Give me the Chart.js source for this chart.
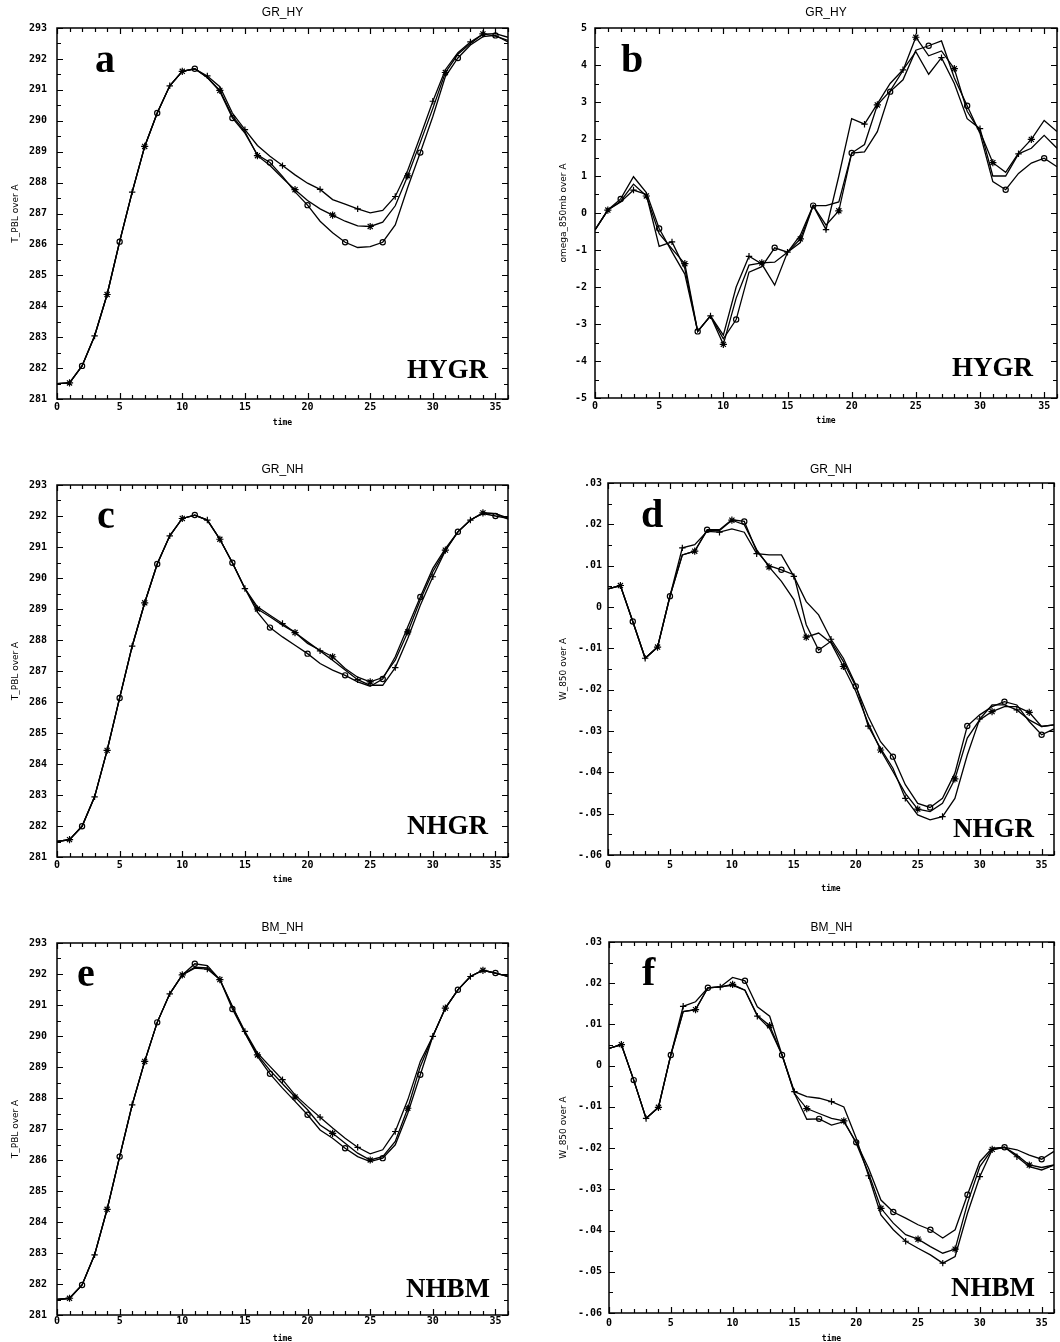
<!DOCTYPE html>
<html><head><meta charset="utf-8">
<script src="https://cdn.jsdelivr.net/npm/chart.js@4.4.1/dist/chart.umd.min.js"></script>
<style>
html,body{margin:0;padding:0;background:#fff;width:1060px;height:1342px;overflow:hidden;position:relative}
canvas{position:absolute}
</style></head><body>
<canvas id="pa" width="530" height="435" style="left:0;top:0"></canvas>
<canvas id="pb" width="530" height="434" style="left:530px;top:0"></canvas>
<canvas id="pc" width="530" height="453" style="left:0;top:440px"></canvas>
<canvas id="pd" width="530" height="457" style="left:530px;top:440px"></canvas>
<canvas id="pe" width="530" height="451" style="left:0;top:900px"></canvas>
<canvas id="pf" width="530" height="450" style="left:530px;top:900px"></canvas>
<script>
// ---------------- data ----------------
const time = [0,1,2,3,4,5,6,7,8,9,10,11,12,13,14,15,16,17,18,19,20,21,22,23,24,25,26,27,28,29,30,31,32,33,34,35,36];
const xTicks = [0,5,10,15,20,25,30,35];
const tTicks = [281,282,283,284,285,286,287,288,289,290,291,292,293];
const omegaTicks = [-5,-4,-3,-2,-1,0,1,2,3,4,5];
const wTicks = [-0.06,-0.05,-0.04,-0.03,-0.02,-0.01,0,0.01,0.02,0.03];

// panel a: T_PBL, GR_HY
const a_plus = [281.5,281.52,282.07,283.04,284.38,286.09,287.69,289.17,290.25,291.13,291.6,291.68,291.45,291.1,290.25,289.71,289.2,288.85,288.55,288.25,287.98,287.78,287.45,287.3,287.15,287.02,287.1,287.55,288.4,289.5,290.63,291.65,292.2,292.55,292.8,292.82,292.7];
const a_star = [281.5,281.52,282.07,283.04,284.38,286.09,287.69,289.17,290.25,291.13,291.6,291.68,291.4,290.98,290.15,289.65,288.87,288.55,288.15,287.77,287.42,287.15,286.95,286.75,286.6,286.58,286.72,287.25,288.22,289.3,290.4,291.56,292.15,292.5,292.81,292.74,292.6];
const a_circ = [281.5,281.52,282.07,283.04,284.38,286.09,287.69,289.17,290.25,291.13,291.6,291.68,291.4,290.95,290.09,289.6,288.9,288.65,288.2,287.7,287.27,286.75,286.38,286.07,285.9,285.93,286.07,286.63,287.85,288.97,290.14,291.43,292.03,292.45,292.72,292.76,292.55];

// panel b: omega_850mb, GR_HY
const b_plus = [-0.46,0.08,0.3,0.62,0.5,-0.9,-0.78,-1.5,-3.2,-2.78,-3.3,-2.0,-1.17,-1.38,-1.95,-1.06,-0.6,0.2,-0.45,1.0,2.55,2.4,2.95,3.5,3.87,4.36,3.75,4.2,3.5,2.55,2.28,1.0,1.0,1.6,1.75,2.1,1.75];
const b_star = [-0.46,0.08,0.32,0.78,0.46,-0.56,-0.97,-1.37,-3.2,-2.78,-3.55,-2.3,-1.41,-1.35,-1.33,-1.06,-0.7,0.2,-0.33,0.06,1.62,1.85,2.92,3.3,3.85,4.75,4.25,4.38,3.9,2.75,2.2,1.36,1.1,1.62,1.99,2.5,2.2];
const b_circ = [-0.46,0.08,0.38,0.98,0.55,-0.42,-1.05,-1.65,-3.2,-2.78,-3.4,-2.88,-1.6,-1.45,-0.94,-1.06,-0.8,0.2,0.2,0.3,1.62,1.65,2.2,3.28,3.6,4.4,4.52,4.65,3.65,2.9,2.15,0.85,0.63,1.07,1.35,1.48,1.25];

// panel c: T_PBL, GR_NH
const c_plus = [281.5,281.56,281.99,282.94,284.44,286.13,287.8,289.2,290.45,291.36,291.92,292.03,291.87,291.25,290.49,289.66,289.07,288.8,288.53,288.24,287.94,287.65,287.35,287.03,286.72,286.54,286.54,287.11,288.05,289.12,290.04,290.88,291.49,291.87,292.1,292.08,291.9];
const c_star = [281.5,281.56,281.99,282.94,284.44,286.13,287.8,289.2,290.45,291.36,291.92,292.03,291.87,291.25,290.49,289.66,289.0,288.75,288.48,288.24,287.89,287.67,287.46,287.08,286.8,286.65,286.79,287.35,288.26,289.29,290.2,290.9,291.49,291.87,292.1,292.08,291.94];
const c_circ = [281.5,281.56,281.99,282.94,284.44,286.13,287.8,289.2,290.45,291.36,291.92,292.03,291.87,291.25,290.49,289.66,288.9,288.4,288.1,287.83,287.56,287.24,287.03,286.86,286.65,286.51,286.74,287.46,288.43,289.39,290.31,290.95,291.49,291.87,292.08,292.0,291.92];

// panel d: W_850, GR_NH
const d_plus = [0.0044,0.0052,-0.0035,-0.0124,-0.0097,0.0026,0.0143,0.0151,0.0183,0.0181,0.0189,0.0181,0.0129,0.0126,0.0126,0.0074,0.0013,-0.0019,-0.0078,-0.0124,-0.0188,-0.0288,-0.0342,-0.039,-0.0463,-0.0503,-0.0515,-0.0507,-0.0463,-0.0358,-0.0271,-0.0237,-0.0237,-0.0249,-0.0273,-0.0289,-0.0285];
const d_star = [0.0044,0.0052,-0.0035,-0.0124,-0.0097,0.0026,0.0126,0.0135,0.0185,0.0185,0.021,0.0199,0.0139,0.0097,0.0062,0.0018,-0.0073,-0.0063,-0.0087,-0.0144,-0.0204,-0.0281,-0.0346,-0.0398,-0.0451,-0.0489,-0.0495,-0.0475,-0.0416,-0.0317,-0.0273,-0.0253,-0.0241,-0.0241,-0.0255,-0.0289,-0.0285];
const d_circ = [0.0044,0.0052,-0.0035,-0.0124,-0.0097,0.0026,0.0126,0.0135,0.0187,0.0187,0.0211,0.0207,0.0135,0.01,0.009,0.0078,-0.0043,-0.0104,-0.0083,-0.0132,-0.0192,-0.0265,-0.0326,-0.0362,-0.043,-0.0475,-0.0485,-0.0463,-0.0402,-0.0288,-0.0261,-0.0241,-0.0229,-0.0237,-0.0277,-0.0309,-0.0295];

// panel e: T_PBL, BM_NH
const e_plus = [281.5,281.54,281.97,282.94,284.41,286.11,287.78,289.18,290.44,291.36,291.97,292.19,292.16,291.82,290.95,290.15,289.45,289.02,288.59,288.1,287.73,287.38,287.03,286.7,286.41,286.2,286.33,286.92,287.94,289.18,289.99,290.9,291.49,291.92,292.12,292.03,291.92];
const e_star = [281.5,281.54,281.97,282.94,284.41,286.11,287.78,289.18,290.44,291.36,291.97,292.22,292.2,291.82,290.95,290.1,289.39,288.89,288.46,288.03,287.62,287.13,286.86,286.54,286.22,286.0,286.11,286.6,287.67,289.02,289.99,290.9,291.49,291.92,292.12,292.03,291.92];
const e_circ = [281.5,281.54,281.97,282.94,284.41,286.11,287.78,289.18,290.44,291.36,291.97,292.33,292.27,291.82,290.87,290.1,289.34,288.78,288.32,287.89,287.46,286.97,286.7,286.38,286.11,285.95,286.06,286.49,287.51,288.75,289.99,290.9,291.49,291.92,292.12,292.03,291.92];

// panel f: W_850, BM_NH
const f_plus = [0.0042,0.0051,-0.0035,-0.0128,-0.0101,0.0026,0.0144,0.0155,0.0189,0.0191,0.0195,0.0183,0.012,0.009,0.0026,-0.0063,-0.0075,-0.0079,-0.0087,-0.01,-0.0176,-0.0267,-0.0362,-0.0398,-0.0426,-0.0443,-0.0459,-0.0479,-0.0463,-0.0358,-0.0269,-0.0204,-0.0198,-0.0221,-0.0245,-0.0253,-0.0241];
const f_star = [0.0042,0.0051,-0.0035,-0.0128,-0.0101,0.0026,0.0131,0.0136,0.0189,0.0191,0.0197,0.0183,0.0122,0.0097,0.0026,-0.0067,-0.0104,-0.0116,-0.0128,-0.0134,-0.0188,-0.0261,-0.0346,-0.0382,-0.041,-0.0421,-0.0439,-0.0455,-0.0445,-0.0334,-0.0245,-0.0203,-0.0198,-0.0217,-0.0241,-0.0247,-0.0241];
const f_circ = [0.0042,0.0051,-0.0035,-0.0128,-0.0101,0.0026,0.0131,0.0136,0.0189,0.0191,0.0214,0.0206,0.0143,0.012,0.0026,-0.0067,-0.013,-0.0129,-0.0144,-0.0136,-0.0186,-0.0249,-0.0326,-0.0355,-0.037,-0.0386,-0.0398,-0.0418,-0.0398,-0.0313,-0.0233,-0.02,-0.0198,-0.0204,-0.0217,-0.0227,-0.0208];

// ---------------- helpers ----------------
const fmtInt = v => String(Math.round(v));
const fmtW = v => { const r = Math.round(v * 100) / 100; if (r === 0) return '0'; return r.toFixed(2).replace('0.', '.'); };

const frameTicks = {
  id: 'frameTicks',
  afterDraw(chart, args, o) {
    const {ctx, chartArea: ca, scales: {x, y}} = chart;
    ctx.save();
    ctx.strokeStyle = '#000';
    ctx.lineWidth = 1.5;
    ctx.strokeRect(ca.left, ca.top, ca.right - ca.left, ca.bottom - ca.top);
    ctx.lineWidth = 1.2;
    ctx.beginPath();
    const nx = Math.round((x.max - x.min) / o.xMinor);
    for (let i = 0; i <= nx; i++) {
      const v = x.min + i * o.xMinor;
      const px = Math.round(x.getPixelForValue(v)) + 0.5;
      const major = Math.abs(v / o.xMajor - Math.round(v / o.xMajor)) < 1e-6;
      const L = major ? 6 : 4;
      ctx.moveTo(px, ca.bottom); ctx.lineTo(px, ca.bottom - L);
      ctx.moveTo(px, ca.top); ctx.lineTo(px, ca.top + L);
    }
    const ny = Math.round((y.max - y.min) / o.yMinor);
    for (let i = 0; i <= ny; i++) {
      const v = y.min + i * o.yMinor;
      const py = Math.round(y.getPixelForValue(v)) + 0.5;
      const major = i % 2 === 0;
      const L = major ? 6 : 4;
      ctx.moveTo(ca.left, py); ctx.lineTo(ca.left + L, py);
      ctx.moveTo(ca.right, py); ctx.lineTo(ca.right - L, py);
    }
    ctx.stroke();
    ctx.fillStyle = '#000';
    ctx.textBaseline = 'alphabetic';
    ctx.textAlign = 'left';
    ctx.font = 'bold 40px "Liberation Serif"';
    ctx.fillText(o.letter, ca.left + o.letterPos[0], ca.top + o.letterPos[1]);
    ctx.textAlign = 'right';
    ctx.font = 'bold 27px "Liberation Serif"';
    ctx.fillText(o.code, ca.right - o.codePos[0], ca.bottom - o.codePos[1]);
    ctx.restore();
  }
};

function makeDatasets(series) {
  const styles = ['cross', 'star', 'circle'];
  const radii = [3.2, 3.6, 2.6];
  return series.map((vals, k) => ({
    data: time.map((t, i) => ({x: t, y: vals[i]})),
    borderColor: '#000',
    borderWidth: 1.3,
    tension: 0,
    fill: false,
    pointStyle: styles[k],
    pointBorderColor: '#000',
    pointBackgroundColor: 'rgba(0,0,0,0)',
    pointBorderWidth: 1.2,
    pointRadius: c => (c.dataIndex > 0 && c.dataIndex < 36 && c.dataIndex % 3 === k) ? radii[k] : 0,
    pointHoverRadius: 0
  }));
}

function makeChart(p) {
  const tickFont = {family: '"DejaVu Sans Mono"', size: 10, weight: 'bold'};
  new Chart(document.getElementById(p.id), {
    type: 'line',
    data: {datasets: makeDatasets(p.series)},
    plugins: [frameTicks],
    options: {
      responsive: false,
      animation: false,
      events: [],
      layout: {padding: {left: 0, right: p.padRight, top: 0, bottom: 0}},
      plugins: {
        legend: {display: false},
        tooltip: {enabled: false},
        title: {display: true, text: p.title, fullSize: false, color: '#000',
          font: {family: '"Liberation Sans"', size: 12, lineHeight: 1, weight: 'normal'},
          padding: p.titlePad},
        frameTicks: {xMinor: 1, xMajor: 5, yMinor: p.yMinor, letter: p.letter, letterPos: p.letterPos, code: p.code, codePos: p.codePos}
      },
      scales: {
        x: {
          type: 'linear', min: 0, max: 36,
          grid: {display: false, drawTicks: false, tickLength: 0},
          border: {display: false},
          afterBuildTicks: s => { s.ticks = xTicks.map(v => ({value: v})); },
          afterFit: s => { s.height = p.xAxisH; },
          ticks: {color: '#000', font: tickFont, padding: p.xTickPad, autoSkip: false, maxRotation: 0, callback: v => fmtInt(v)},
          title: {display: true, text: 'time', color: '#000', font: {family: '"DejaVu Sans Mono"', size: 8, weight: 'bold', lineHeight: 1.2}, padding: {top: 0, bottom: p.xTitlePad}}
        },
        y: {
          type: 'linear', min: p.yMin, max: p.yMax,
          grid: {display: false, drawTicks: false, tickLength: 0},
          border: {display: false},
          afterBuildTicks: s => { s.ticks = p.yTicks.map(v => ({value: v})); },
          afterFit: s => { s.width = p.yAxisW; },
          ticks: {color: '#000', font: tickFont, padding: p.yTickPad, autoSkip: false, callback: v => p.fmt(v)},
          title: {display: true, text: p.yLabel, color: '#000', font: {family: '"DejaVu Sans"', size: 9, lineHeight: 1.2}, padding: {top: p.yTitlePad, bottom: 0}}
        }
      }
    }
  });
}

const panels = [
  {id: 'pa', title: 'GR_HY', titlePad: {top: 7, bottom: 9}, yAxisW: 57, padRight: 22, xAxisH: 36, xTickPad: 2, xTitlePad: 7, yTickPad: 10, yTitlePad: 10,
   yLabel: 'T_PBL over A', yMin: 281, yMax: 293, yTicks: tTicks, yMinor: 0.5, fmt: fmtInt, series: [a_plus, a_star, a_circ],
   letter: 'a', letterPos: [38, 44], code: 'HYGR', codePos: [20, 21]},
  {id: 'pb', title: 'GR_HY', titlePad: {top: 7, bottom: 9}, yAxisW: 65, padRight: 3, xAxisH: 36, xTickPad: 2, xTitlePad: 8, yTickPad: 8, yTitlePad: 28,
   yLabel: 'omega_850mb over A', yMin: -5, yMax: 5, yTicks: omegaTicks, yMinor: 0.5, fmt: fmtInt, series: [b_plus, b_star, b_circ],
   letter: 'b', letterPos: [26, 44], code: 'HYGR', codePos: [24, 22]},
  {id: 'pc', title: 'GR_NH', titlePad: {top: 24, bottom: 9}, yAxisW: 57, padRight: 22, xAxisH: 36, xTickPad: 2, xTitlePad: 8, yTickPad: 10, yTitlePad: 10,
   yLabel: 'T_PBL over A', yMin: 281, yMax: 293, yTicks: tTicks, yMinor: 0.5, fmt: fmtInt, series: [c_plus, c_star, c_circ],
   letter: 'c', letterPos: [40, 43], code: 'NHGR', codePos: [20, 23]},
  {id: 'pd', title: 'GR_NH', titlePad: {top: 24, bottom: 7}, yAxisW: 78, padRight: 6, xAxisH: 42, xTickPad: 4, xTitlePad: 3, yTickPad: 6, yTitlePad: 28,
   yLabel: 'W_850 over A', yMin: -0.06, yMax: 0.03, yTicks: wTicks, yMinor: 0.005, fmt: fmtW, series: [d_plus, d_star, d_circ],
   letter: 'd', letterPos: [33, 44], code: 'NHGR', codePos: [20, 18]},
  {id: 'pe', title: 'BM_NH', titlePad: {top: 22, bottom: 9}, yAxisW: 57, padRight: 22, xAxisH: 36, xTickPad: 0, xTitlePad: 7, yTickPad: 10, yTitlePad: 10,
   yLabel: 'T_PBL over A', yMin: 281, yMax: 293, yTicks: tTicks, yMinor: 0.5, fmt: fmtInt, series: [e_plus, e_star, e_circ],
   letter: 'e', letterPos: [20, 43], code: 'NHBM', codePos: [18, 18]},
  {id: 'pf', title: 'BM_NH', titlePad: {top: 22, bottom: 8}, yAxisW: 79, padRight: 6, xAxisH: 37, xTickPad: 4, xTitlePad: 6, yTickPad: 7, yTitlePad: 28,
   yLabel: 'W_850 over A', yMin: -0.06, yMax: 0.03, yTicks: wTicks, yMinor: 0.005, fmt: fmtW, series: [f_plus, f_star, f_circ],
   letter: 'f', letterPos: [33, 43], code: 'NHBM', codePos: [19, 17]}
];
panels.forEach(makeChart);
</script>
</body></html>
